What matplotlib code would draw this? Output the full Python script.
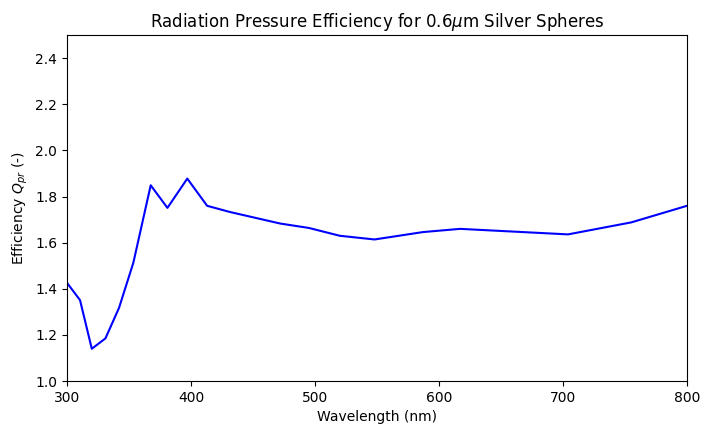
import matplotlib
matplotlib.use('Agg')
import matplotlib.pyplot as plt

# wavelength (nm) and radiation pressure efficiency
wavelength = [300, 310.5, 320, 331, 342, 353.5, 367.5, 381, 397, 413, 431.5,
              472, 495, 520, 548, 587, 617, 704, 755, 800]
q_pr = [1.426, 1.351, 1.140, 1.185, 1.318, 1.513, 1.849, 1.751, 1.878, 1.760,
        1.733, 1.683, 1.664, 1.630, 1.614, 1.646, 1.660, 1.636, 1.688, 1.760]

fig = plt.figure(figsize=(7.09, 4.34), dpi=100)
ax = fig.add_subplot(111)
fig.subplots_adjust(left=0.0945, right=0.969, top=0.919, bottom=0.122)

ax.plot(wavelength, q_pr, color='blue')
ax.set_xlim(300, 800)
ax.set_ylim(1.0, 2.5)
ax.set_title(r'Radiation Pressure Efficiency for 0.6$\mu$m Silver Spheres')
ax.set_xlabel('Wavelength (nm)')
ax.set_ylabel(r'Efficiency $Q_{pr}$ (-)')

fig.savefig('out.png', dpi=100)
